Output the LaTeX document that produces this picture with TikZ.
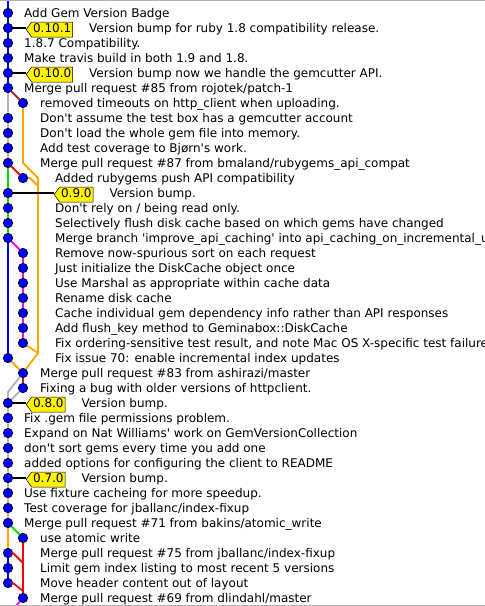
\documentclass[tikz,border=0pt]{standalone}
\usepackage{fontspec}
\newfontfamily\gitfont{DejaVu Sans}
\usetikzlibrary{positioning,shapes.symbols}

\definecolor{gitorange}{HTML}{FFA500}
\definecolor{gitbrown}{HTML}{A52A2A}
\definecolor{gitgrey}{HTML}{B4B4B4}
\definecolor{gitgreen}{HTML}{00E000}
\definecolor{gitmagenta}{HTML}{FF00FF}

\tikzset{
  commit/.style={circle, draw=black, line width=0.6pt, fill=blue, minimum size=9.5pt, inner sep=0pt},
  msg/.style={anchor=west, inner sep=0pt, text height=9pt, text depth=3pt, font=\gitfont\fontsize{12pt}{14pt}\selectfont},
  tag/.style={signal, signal to=west, signal from=nowhere, signal pointer angle=110,
    draw=black, line width=0.5pt, fill=yellow, inner xsep=1.5pt, inner ysep=1.5pt,
    text height=9pt, text depth=3pt, anchor=west, font=\gitfont\fontsize{12pt}{14pt}\selectfont},
  edge/.style={line width=1.8pt},
}

\begin{document}
\begin{tikzpicture}[x=1pt, y=-1pt]

\useasboundingbox (0,0) rectangle (485,606);
\clip (0,0) rectangle (485,606);

% commits
\node[commit] (c0) at (8,13) {};
\node[commit] (c1) at (8,28) {};
\node[commit] (c2) at (8,43) {};
\node[commit] (c3) at (8,58) {};
\node[commit] (c4) at (8,73) {};
\node[commit] (c5) at (8,88) {};
\node[commit] (c6) at (23,103) {};
\node[commit] (c7) at (8,118) {};
\node[commit] (c8) at (8,133) {};
\node[commit] (c9) at (8,148) {};
\node[commit] (c10) at (8,163) {};
\node[commit] (c11) at (23,178) {};
\node[commit] (c12) at (8,193) {};
\node[commit] (c13) at (8,208) {};
\node[commit] (c14) at (8,223) {};
\node[commit] (c15) at (8,238) {};
\node[commit] (c16) at (23,253) {};
\node[commit] (c17) at (23,268) {};
\node[commit] (c18) at (23,283) {};
\node[commit] (c19) at (23,298) {};
\node[commit] (c20) at (23,313) {};
\node[commit] (c21) at (23,328) {};
\node[commit] (c22) at (23,343) {};
\node[commit] (c23) at (8,358) {};
\node[commit] (c24) at (23,373) {};
\node[commit] (c25) at (23,388) {};
\node[commit] (c26) at (8,403) {};
\node[commit] (c27) at (8,418) {};
\node[commit] (c28) at (8,433) {};
\node[commit] (c29) at (8,448) {};
\node[commit] (c30) at (8,463) {};
\node[commit] (c31) at (8,478) {};
\node[commit] (c32) at (8,493) {};
\node[commit] (c33) at (8,508) {};
\node[commit] (c34) at (8,523) {};
\node[commit] (c35) at (23,538) {};
\node[commit] (c36) at (8,553) {};
\node[commit] (c37) at (8,568) {};
\node[commit] (c38) at (8,583) {};
\node[commit] (c39) at (23,598) {};

\coordinate (top) at (8,0);
\coordinate (bot) at (14,608);
\coordinate (k11) at (38,178);
\coordinate (k12) at (38,186);
\coordinate (k22) at (38,353);
\coordinate (g25) at (8,392);

% branch lines
\draw[edge, blue] (top) -- (c0) -- (c1) -- (c2) -- (c3) -- (c4) -- (c5);
\draw[edge, gitbrown] (c5) -- (c6);
\draw[edge, gitgrey] (c5) -- (c7) -- (c8) -- (c9) -- (c10);
\draw[edge, gitorange] (c6) -- (c6 |- c10) -- (k11) -- (k22) -- (c24);
\draw[edge, gitorange] (c11) -- ++(7,0) -- (k12);
\draw[edge, red] (c10) -- (c11);
\draw[edge, gitgreen] (c10) -- (c12) -- (c13) -- (c14) -- (c15);
\draw[edge, gitmagenta] (c15) -- (c16) -- (c17) -- (c18) -- (c19) -- (c20) -- (c21) -- (c22);
\draw[edge, blue] (c15) -- (c23);
\draw[edge, gitorange] (c22) -- (k22);
\draw[edge, gitorange] (c23) -- (c24);
\draw[edge, gitbrown] (c24) -- (c25);
\draw[edge, gitgrey] (c24) -- (g25) -- (c26);
\draw[edge, gitgrey] (c25) -- (c26);
\draw[edge, gitgrey] (c26) -- (c27) -- (c28) -- (c29) -- (c30) -- (c31) -- (c32) -- (c33) -- (c34);
\draw[edge, gitgreen] (c34) -- (c35);
\draw[edge, gitorange] (c34) -- (c36);
\draw[edge, blue] (c36) -- (c37) -- (c38);
\draw[edge, red] (c35) -- (c39);
\draw[edge, red] (c36) -- ++(5,0) -- ++(10,10);
\draw[edge, red] (c38) -- ++(5,0) -- ++(10,8);
\draw[edge, gitmagenta] (c39) -- (bot);

% tags
\node[tag] (t1) at (26,29.5) {0.10.1};
\node[tag] (t4) at (26,74.5) {0.10.0};
\node[tag] (t12) at (54,194.5) {0.9.0};
\node[tag] (t26) at (26,404.5) {0.8.0};
\node[tag] (t31) at (26,479.5) {0.7.0};
\draw[edge] (c1) -- (c1 -| t1.west);
\draw[edge] (c4) -- (c4 -| t4.west);
\draw[edge] (c12) -- (c12 -| t12.west);
\draw[edge] (c26) -- (c26 -| t26.west);
\draw[edge] (c31) -- (c31 -| t31.west);

% messages
\node[msg] (m0) at (24,14.5) {Add Gem Version Badge};
\node[msg, right=16pt of t1] (m1) {Version bump for ruby 1.8 compatibility release.};
\node[msg] (m2) at (24,44.5) {1.8.7 Compatibility.};
\node[msg] (m3) at (24,59.5) {Make travis build in both 1.9 and 1.8.};
\node[msg, right=16pt of t4] (m4) {Version bump now we handle the gemcutter API.};
\node[msg] (m5) at (24,89.5) {Merge pull request \#85 from rojotek/patch-1};
\node[msg] (m6) at (40,104.5) {removed timeouts on http\_client when uploading.};
\node[msg] (m7) at (40,119.5) {Don't assume the test box has a gemcutter account};
\node[msg] (m8) at (40,134.5) {Don't load the whole gem file into memory.};
\node[msg] (m9) at (40,149.5) {Add test coverage to Bjørn's work.};
\node[msg] (m10) at (40,164.5) {Merge pull request \#87 from bmaland/rubygems\_api\_compat};
\node[msg] (m11) at (55,179.5) {Added rubygems push API compatibility};
\node[msg, right=16pt of t12] (m12) {Version bump.};
\node[msg] (m13) at (55,209.5) {Don't rely on / being read only.};
\node[msg] (m14) at (55,224.5) {Selectively flush disk cache based on which gems have changed};
\node[msg] (m15) at (55,239.5) {Merge branch 'improve\_api\_caching' into api\_caching\_on\_incremental\_updates};
\node[msg] (m16) at (55,254.5) {Remove now-spurious sort on each request};
\node[msg] (m17) at (55,269.5) {Just initialize the DiskCache object once};
\node[msg] (m18) at (55,284.5) {Use Marshal as appropriate within cache data};
\node[msg] (m19) at (55,299.5) {Rename disk cache};
\node[msg] (m20) at (55,314.5) {Cache individual gem dependency info rather than API responses};
\node[msg] (m21) at (55,329.5) {Add flush\_key method to Geminabox::DiskCache};
\node[msg] (m22) at (55,344.5) {Fix ordering-sensitive test result, and note Mac OS X-specific test failure};
\node[msg] (m23) at (55,359.5) {Fix issue 70: enable incremental index updates};
\node[msg] (m24) at (40,374.5) {Merge pull request \#83 from ashirazi/master};
\node[msg] (m25) at (40,389.5) {Fixing a bug with older versions of httpclient.};
\node[msg, right=16pt of t26] (m26) {Version bump.};
\node[msg] (m27) at (24,419.5) {Fix .gem file permissions problem.};
\node[msg] (m28) at (24,434.5) {Expand on Nat Williams' work on GemVersionCollection};
\node[msg] (m29) at (24,449.5) {don't sort gems every time you add one};
\node[msg] (m30) at (24,464.5) {added options for configuring the client to README};
\node[msg, right=16pt of t31] (m31) {Version bump.};
\node[msg] (m32) at (24,494.5) {Use fixture cacheing for more speedup.};
\node[msg] (m33) at (24,509.5) {Test coverage for jballanc/index-fixup};
\node[msg] (m34) at (24,524.5) {Merge pull request \#71 from bakins/atomic\_write};
\node[msg] (m35) at (40,539.5) {use atomic write};
\node[msg] (m36) at (40,554.5) {Merge pull request \#75 from jballanc/index-fixup};
\node[msg] (m37) at (40,569.5) {Limit gem index listing to most recent 5 versions};
\node[msg] (m38) at (40,584.5) {Move header content out of layout};
\node[msg] (m39) at (40,599.5) {Merge pull request \#69 from dlindahl/master};

% window borders
\draw[gitgrey, line width=1pt] (0,0.5) -- (485,0.5);
\draw[gitgrey, line width=1pt] (0,605.5) -- (485,605.5);

\end{tikzpicture}
\end{document}
